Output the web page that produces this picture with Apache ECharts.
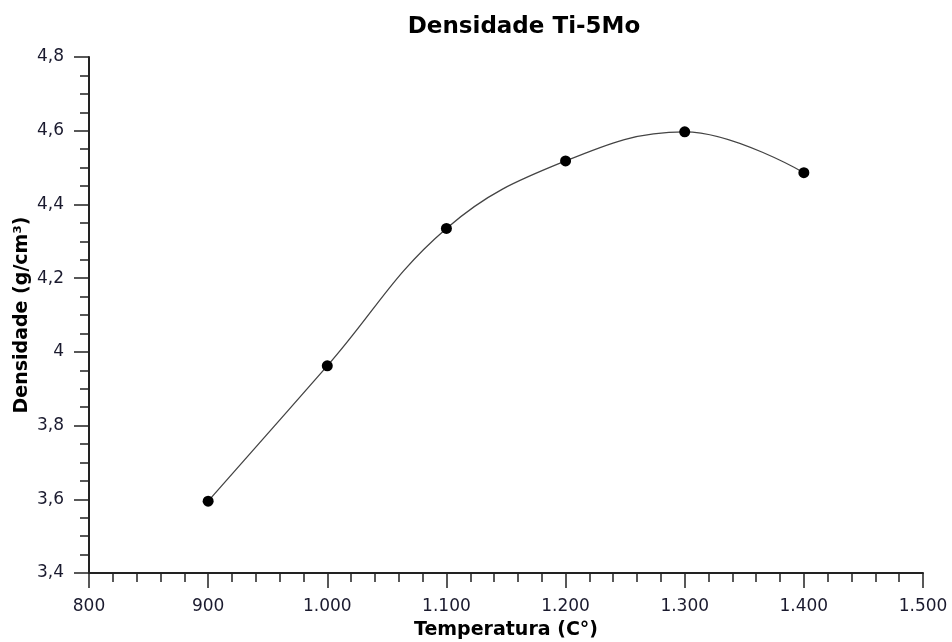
<!DOCTYPE html>
<html><head><meta charset="utf-8">
<script src="https://cdn.jsdelivr.net/npm/echarts@6/dist/echarts.min.js"></script>
<style>html,body{margin:0;padding:0;background:#fff}#c{width:952px;height:642px}</style>
</head><body><div id="c"></div>
<script>
const temperatures = [900, 1000, 1100, 1200, 1300, 1400];
const densities = [3.595, 3.962, 4.335, 4.518, 4.597, 4.486];
const titleText = 'Densidade Ti-5Mo';
const xName = 'Temperatura (C°)';
const yName = 'Densidade (g/cm³)';

const font = 'DejaVu Sans, Verdana, sans-serif';
const chart = echarts.init(document.getElementById('c'), null, {renderer: 'canvas'});
function fmtY(v) { return String(Math.round(v * 10) / 10).replace('.', ','); }
function fmtX(v) { return Math.round(v).toString().replace(/\B(?=(\d{3})+(?!\d))/g, '.'); }
chart.setOption({
  animation: false,
  backgroundColor: '#fff',
  title: {text: titleText, left: 519, top: 11, textAlign: 'center',
    textStyle: {fontFamily: font, fontSize: 23, fontWeight: 'bold', color: '#000'}},
  grid: {left: 89, right: 29, top: 57, bottom: 69, containLabel: false, outerBoundsMode: 'none'},
  xAxis: {
    type: 'value', min: 800, max: 1500, interval: 100,
    name: xName, nameLocation: 'middle', nameGap: 48, nameMoveOverlap: false,
    nameTextStyle: {fontFamily: font, fontSize: 19, fontWeight: 'bold', color: '#000'},
    axisLine: {lineStyle: {color: '#222', width: 2}},
    axisTick: {inside: false, length: 15, lineStyle: {color: '#222', width: 1.5}},
    minorTick: {show: true, splitNumber: 5, length: 9, lineStyle: {color: '#222', width: 1.5}},
    splitLine: {show: false},
    axisLabel: {fontFamily: font, fontSize: 17, color: '#1a1a2e', margin: 25, formatter: fmtX}
  },
  yAxis: {
    type: 'value', min: 3.4, max: 4.8, interval: 0.2,
    name: yName, nameLocation: 'middle', nameGap: 57, nameRotate: 90, nameMoveOverlap: false,
    nameTextStyle: {fontFamily: font, fontSize: 19, fontWeight: 'bold', color: '#000'},
    axisLine: {show: true, lineStyle: {color: '#222', width: 2}},
    axisTick: {show: true, inside: false, length: 15, lineStyle: {color: '#222', width: 1.5}},
    minorTick: {show: true, splitNumber: 4, length: 9, lineStyle: {color: '#222', width: 1.5}},
    splitLine: {show: false},
    axisLabel: {fontFamily: font, fontSize: 17, color: '#1a1a2e', margin: 25, formatter: fmtY}
  },
  series: [{
    type: 'line', smooth: 0.4,
    data: temperatures.map((t, i) => [t, densities[i]]),
    symbol: 'circle', symbolSize: 11,
    itemStyle: {color: '#000'},
    lineStyle: {color: '#444', width: 1.3}
  }]
});
</script></body></html>
